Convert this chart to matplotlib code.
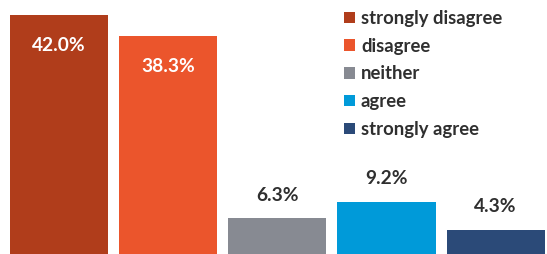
import matplotlib
matplotlib.use("Agg")
import matplotlib.pyplot as plt

# ---------------------------
# Data
# ---------------------------
categories = ["strongly disagree", "disagree", "neither", "agree", "strongly agree"]
values = [42.0, 38.3, 6.3, 9.2, 4.3]
labels = ["42.0%", "38.3%", "6.3%", "9.2%", "4.3%"]
colors = ["#B03D1B", "#EB552C", "#878A92", "#009AD9", "#2B4A78"]
inside = [True, True, False, False, False]

plt.rcParams["font.family"] = ["Lato", "DejaVu Sans"]
text_color = "#2F2F2F"

fig = plt.figure(figsize=(5.47, 2.54), dpi=100)
ax = fig.add_axes([0, 0, 1, 1])

x = list(range(len(values)))
bars = ax.bar(x, values, width=0.9, color=colors, label=categories)

for xi, v, lab, ins in zip(x, values, labels, inside):
    if ins:
        ax.text(xi, v - 5.4, lab, ha="center", va="center", color="white",
                fontsize=13.8, fontweight="bold")
    else:
        ax.text(xi, v + 4.0, lab, ha="center", va="center", color=text_color,
                fontsize=13.8, fontweight="bold")

ax.set_xlim(-0.54, 4.47)
ax.set_ylim(0, 44.6)
ax.axis("off")

handles = [bars[i] for i in range(len(categories))]
leg = fig.legend(handles, categories, loc="upper left",
                 bbox_to_anchor=(0.615, 0.99), frameon=False,
                 handlelength=0.58, handleheight=0.58, handletextpad=0.35,
                 labelspacing=0.58, borderaxespad=0,
                 prop={"size": 13.3, "weight": "bold"})
for t in leg.get_texts():
    t.set_color(text_color)

fig.savefig("out.png", dpi=100)
